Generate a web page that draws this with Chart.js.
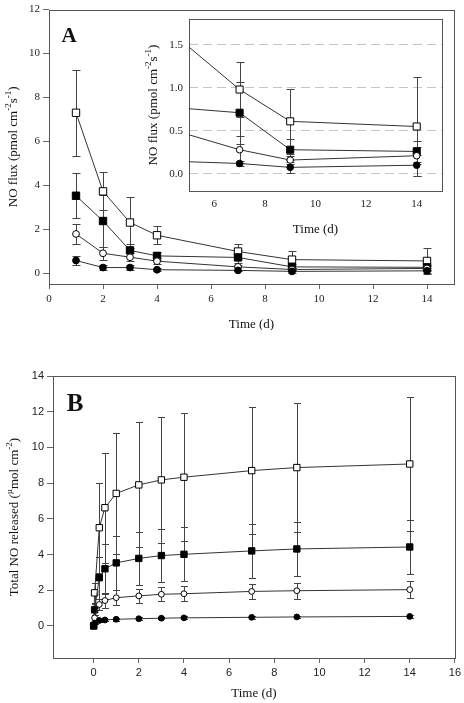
<!DOCTYPE html>
<html>
<head>
<meta charset="utf-8">
<script src="https://cdn.jsdelivr.net/npm/chart.js@4.4.0/dist/chart.umd.min.js"></script>
<style>
  body { margin: 0; background: #fff; }
  #wrap { position: relative; width: 464px; height: 703px; }
  canvas { position: absolute; left: 0; }
</style>
</head>
<body>
<div id="wrap">
  <canvas id="chartA" width="464" height="330" style="top:0"></canvas>
  <canvas id="chartInset" width="464" height="330" style="top:0"></canvas>
  <canvas id="chartB" width="464" height="373" style="top:330px"></canvas>
</div>
<script>
const SERIF = "'Liberation Serif', 'Times New Roman', serif";
const SANS = "'Liberation Sans', Arial, sans-serif";

// panel A: NO flux, pmol cm-2 s-1
const daysA = [1, 2, 3, 4, 7, 9, 14];
const fluxOpenSquare = [7.3, 3.72, 2.3, 1.72, 0.98, 0.61, 0.55];
const fluxOpenSquareSd = [1.95, 0.87, 1.18, 0.4, 0.32, 0.38, 0.58];
const fluxFilledSquare = [3.52, 2.37, 1.03, 0.78, 0.71, 0.28, 0.26];
const fluxFilledSquareSd = [1.03, 1.2, 0.28, 0.2, 0.36, 0.12, 0.12];
const fluxOpenCircle = [1.78, 0.9, 0.72, 0.54, 0.28, 0.16, 0.21];
const fluxOpenCircleSd = [0.45, 0.3, 0.18, 0.15, 0.16, 0.05, 0.1];
const fluxFilledCircle = [0.57, 0.25, 0.25, 0.15, 0.12, 0.075, 0.1];
const fluxFilledCircleSd = [0.22, 0.1, 0.1, 0.06, 0.03, 0.06, 0.12];

const ticksAx = [0, 2, 4, 6, 8, 10, 12, 14];
const ticksAy = [0, 2, 4, 6, 8, 10, 12];
const ticksInsetX = [6, 8, 10, 12, 14];
const ticksInsetY = [0, 0.5, 1.0, 1.5];

// panel B: total NO released, umol cm-2
const daysB = [0, 0.042, 0.25, 0.5, 1, 2, 3, 4, 7, 9, 14];
const totalOpenSquare = [0, 1.85, 5.5, 6.62, 7.42, 7.9, 8.18, 8.33, 8.7, 8.87, 9.07];
const totalOpenSquareSd = [0, 0.56, 2.52, 3.08, 3.4, 3.5, 3.53, 3.59, 3.56, 3.63, 3.75];
const totalFilledSquare = [0, 0.9, 2.7, 3.2, 3.53, 3.78, 3.94, 4.01, 4.2, 4.31, 4.42];
const totalFilledSquareSd = [0, 0.3, 1.17, 1.4, 1.5, 1.5, 1.5, 1.52, 1.52, 1.5, 1.5];
const totalOpenCircle = [0, 0.45, 1.2, 1.42, 1.58, 1.68, 1.77, 1.8, 1.93, 1.97, 2.03];
const totalOpenCircleSd = [0, 0.15, 0.3, 0.4, 0.43, 0.4, 0.4, 0.42, 0.44, 0.45, 0.47];
const totalFilledCircle = [0, 0.15, 0.3, 0.33, 0.37, 0.4, 0.43, 0.45, 0.48, 0.5, 0.53];
const totalFilledCircleSd = [0, 0.05, 0.06, 0.06, 0.07, 0.07, 0.07, 0.08, 0.08, 0.08, 0.1];

const ticksBx = [0, 2, 4, 6, 8, 10, 12, 14, 16];
const ticksBy = [0, 2, 4, 6, 8, 10, 12, 14];

function series(xs, ys, sd, shape, filled, r) {
  return {
    data: xs.map((x, i) => ({ x, y: ys[i] })),
    err: sd,
    showLine: true,
    borderColor: '#333',
    borderWidth: 1,
    pointStyle: shape,
    pointRadius: r,
    pointHoverRadius: r,
    pointBackgroundColor: filled ? '#000' : '#fff',
    pointBorderColor: '#000',
    pointBorderWidth: 1
  };
}

function axis(min, max, ticks, o) {
  return {
    type: 'linear', min, max,
    afterBuildTicks: s => { s.ticks = ticks.map(v => ({ value: v })); },
    afterFit: s => {
      if (o.w != null) s.width = o.w;
      if (o.h != null) s.height = o.h;
    },
    grid: {
      display: true,
      drawOnChartArea: !!o.dash,
      drawTicks: o.tl > 0,
      tickLength: o.tl,
      color: o.dash ? '#c4c4c4' : '#666',
      tickColor: '#666'
    },
    border: { display: false, dash: o.dash || [] },
    ticks: { font: o.font, color: '#222', padding: o.pad, callback: o.fmt || (v => v) }
  };
}

// parts beginning with ^ are drawn as superscripts
function drawRich(ctx, parts, cx, cy, rot, size, family, weight) {
  ctx.save();
  ctx.translate(cx, cy);
  ctx.rotate(rot);
  ctx.fillStyle = '#111';
  ctx.textAlign = 'left';
  ctx.textBaseline = 'alphabetic';
  const fontOf = sup => `${weight || 'normal'} ${sup ? Math.round(size * 0.68) : size}px ${family}`;
  const items = parts.map(p => ({ sup: p[0] === '^', t: p[0] === '^' ? p.slice(1) : p }));
  let total = 0;
  items.forEach(p => { ctx.font = fontOf(p.sup); p.w = ctx.measureText(p.t).width; total += p.w; });
  let x = -total / 2;
  const base = size * 0.35;
  items.forEach(p => {
    ctx.font = fontOf(p.sup);
    ctx.fillText(p.t, x, p.sup ? base - size * 0.42 : base);
    x += p.w;
  });
  ctx.restore();
}

function decor(cap, texts) {
  return {
    id: 'decor',
    beforeDatasetsDraw(chart) {
      const { ctx, chartArea: a, scales: { x, y } } = chart;
      ctx.save();
      ctx.strokeStyle = '#555';
      ctx.lineWidth = 1;
      ctx.strokeRect(Math.round(a.left) + 0.5, Math.round(a.top) + 0.5,
        Math.round(a.right - a.left), Math.round(a.bottom - a.top));
      ctx.beginPath();
      ctx.rect(a.left, a.top, a.right - a.left, a.bottom - a.top);
      ctx.clip();
      ctx.strokeStyle = '#444';
      chart.data.datasets.forEach(ds => {
        ds.data.forEach((p, i) => {
          const e = ds.err[i];
          if (!e) return;
          const px = Math.round(x.getPixelForValue(p.x)) + 0.5;
          const y1 = Math.round(y.getPixelForValue(p.y + e)) + 0.5;
          const y2 = Math.round(y.getPixelForValue(p.y - e)) + 0.5;
          ctx.beginPath();
          ctx.moveTo(px, y1); ctx.lineTo(px, y2);
          ctx.moveTo(px - cap, y1); ctx.lineTo(px + cap, y1);
          ctx.moveTo(px - cap, y2); ctx.lineTo(px + cap, y2);
          ctx.stroke();
        });
      });
      ctx.restore();
    },
    afterDraw(chart) {
      const a = chart.chartArea;
      texts.forEach(t => {
        const [cx, cy] = t.at(a);
        drawRich(chart.ctx, t.parts, cx, cy, t.rot || 0, t.size, t.family || SERIF, t.weight);
      });
    }
  };
}

const common = {
  responsive: false,
  animation: false,
  events: [],
  plugins: { legend: { display: false }, tooltip: { enabled: false } }
};

function datasetsA(r, rc) {
  return [
    series(daysA, fluxFilledCircle, fluxFilledCircleSd, 'circle', true, rc),
    series(daysA, fluxOpenCircle, fluxOpenCircleSd, 'circle', false, rc),
    series(daysA, fluxFilledSquare, fluxFilledSquareSd, 'rect', true, r),
    series(daysA, fluxOpenSquare, fluxOpenSquareSd, 'rect', false, r)
  ];
}

const fluxTitle = ['NO flux (pmol cm', '^-2', 's', '^-1', ')'];

new Chart(document.getElementById('chartA'), {
  type: 'scatter',
  data: { datasets: datasetsA(5.2, 3.4) },
  options: {
    ...common,
    layout: { padding: { top: 9, right: 10, left: 0, bottom: 0 } },
    scales: {
      x: axis(0, 15, ticksAx, { h: 46, tl: 5, pad: 4, font: { family: SERIF, size: 11 } }),
      y: axis(-0.5, 12, ticksAy, { w: 49, tl: 6, pad: 3, font: { family: SERIF, size: 11 } })
    }
  },
  plugins: [decor(4, [
    { parts: ['Time (d)'], at: a => [(a.left + a.right) / 2, a.bottom + 39], size: 13 },
    { parts: fluxTitle, at: a => [12, (a.top + a.bottom) / 2], rot: -Math.PI / 2, size: 13 },
    { parts: ['A'], at: a => [69, 35], size: 21, weight: 'bold' }
  ])]
});

new Chart(document.getElementById('chartInset'), {
  type: 'scatter',
  data: { datasets: datasetsA(5, 3.3) },
  options: {
    ...common,
    layout: { padding: { top: 19, right: 22, left: 140, bottom: 90 } },
    scales: {
      x: axis(5, 15, ticksInsetX, { h: 49, tl: 0, pad: 7, font: { family: SERIF, size: 11 } }),
      y: axis(-0.2, 1.8, ticksInsetY, { w: 49, tl: 0, pad: 6, dash: [9, 5],
        font: { family: SERIF, size: 11 }, fmt: v => v.toFixed(1) })
    }
  },
  plugins: [decor(4, [
    { parts: ['Time (d)'], at: a => [(a.left + a.right) / 2, a.bottom + 37], size: 13 },
    { parts: fluxTitle, at: a => [152, (a.top + a.bottom) / 2], rot: -Math.PI / 2, size: 13 }
  ])]
});

new Chart(document.getElementById('chartB'), {
  type: 'scatter',
  data: {
    datasets: [
      series(daysB, totalFilledCircle, totalFilledCircleSd, 'circle', true, 2.9),
      series(daysB, totalOpenCircle, totalOpenCircleSd, 'circle', false, 2.9),
      series(daysB, totalFilledSquare, totalFilledSquareSd, 'rect', true, 4.5),
      series(daysB, totalOpenSquare, totalOpenSquareSd, 'rect', false, 4.5)
    ]
  },
  options: {
    ...common,
    layout: { padding: { top: 46, right: 7, left: 0, bottom: 0 } },
    scales: {
      x: axis(-1.8, 16, ticksBx, { h: 45, tl: 5, pad: 3, font: { family: SANS, size: 11 } }),
      y: axis(-1.8, 14, ticksBy, { w: 53, tl: 6, pad: 3, font: { family: SANS, size: 11 } })
    }
  },
  plugins: [decor(3.5, [
    { parts: ['Time (d)'], at: a => [(a.left + a.right) / 2, a.bottom + 34], size: 13 },
    { parts: ['Total NO released (', '^\u00b5', 'mol cm', '^-2', ')'], at: a => [13, (a.top + a.bottom) / 2],
      rot: -Math.PI / 2, size: 13 },
    { parts: ['B'], at: a => [75, 72], size: 25, weight: 'bold' }
  ])]
});
</script>
</body>
</html>
